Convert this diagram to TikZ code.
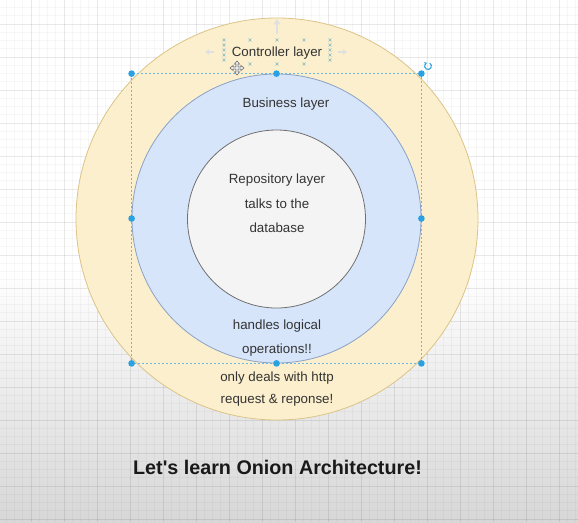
\documentclass[tikz,border=0pt]{standalone}
\usepackage{fontspec}
\setmainfont{Liberation Sans}
\usetikzlibrary{arrows.meta}

\definecolor{outerfill}{HTML}{FCEFCD}
\definecolor{outerline}{HTML}{DCC488}
\definecolor{midfill}{HTML}{D7E5FA}
\definecolor{midline}{HTML}{8AA2C4}
\definecolor{innerfill}{HTML}{F4F4F4}
\definecolor{innerline}{HTML}{707070}
\definecolor{txt}{HTML}{333333}
\definecolor{selblue}{HTML}{2AA2E2}
\definecolor{framecol}{HTML}{6DB8E4}
\definecolor{pointcol}{HTML}{7FB8C6}
\definecolor{bggrey}{HTML}{D7D7D7}

\tikzset{
  layer/.style={circle, draw, line width=0.6pt, inner sep=0pt},
  label text/.style={text=txt, font=\fontsize{10}{12}\selectfont, inner sep=0pt},
  handle/.style={circle, fill=selblue, inner sep=0pt, minimum size=5pt},
  cpoint/.style={draw=pointcol, line width=0.5pt},
  hoverarrow/.style={draw=black!12, line width=1.2pt},
}

\begin{document}
\begin{tikzpicture}[x=0.75pt,y=-0.75pt]
\useasboundingbox (0,0) rectangle (578,522);

% canvas with its soft grey fade
\fill[white] (0,0) rectangle (578,522);
\shade[top color=white, bottom color=bggrey] (0,270) rectangle (578,522);

% page grid
\foreach \i in {0,...,70} {
  \draw[black, opacity=0.03, line width=0.4pt] ({-2+\i*8.25},0) -- ({-2+\i*8.25},522);
  \draw[black, opacity=0.03, line width=0.4pt] (0,{-0.75+\i*8.25}) -- (578,{-0.75+\i*8.25});
}
\foreach \i in {0,...,17} {
  \draw[black, opacity=0.055, line width=0.5pt] ({31+\i*33},0) -- ({31+\i*33},522);
  \draw[black, opacity=0.055, line width=0.5pt] (0,{24+\i*33}) -- (578,{24+\i*33});
}

% the three layers
\node[layer, fill=outerfill, draw=outerline, minimum size=301.5pt] (outer) at (277,219) {};
\node[layer, fill=midfill, draw=midline, minimum size=216.75pt] (middle) at (276.5,218.5) {};
\node[layer, fill=innerfill, draw=innerline, minimum size=133.5pt] (inner) at (276.5,219) {};

% texts
\node[label text] (ctrl) at (277,53) {Controller layer};
\node[label text] (bus) at (286,104) {Business layer};
\node[label text] (repo1) at (277,180) {Repository layer};
\node[label text] (repo2) at (277,204) {talks to the};
\node[label text] (repo3) at (277,228) {database};
\node[label text] (log1) at (277,326) {handles logical};
\node[label text] (log2) at (277,350) {operations!!};
\node[label text] (http1) at (277,378) {only deals with http};
\node[label text] (http2) at (277,400) {request \& reponse!};
\node[text=black!90, font=\bfseries\fontsize{14.8}{17}\selectfont, inner sep=0pt] (title) at (277.5,467) {Let{\XeTeXglyph\XeTeXcharglyph"0027}s learn Onion Architecture!};

% hover arrows around the controller label
\draw[hoverarrow, -{Triangle[length=4pt,width=5pt]}] (277,34) -- (277,19);
\draw[hoverarrow, -{Triangle[length=3pt,width=4pt]}] (214,52) -- (205,52);
\draw[hoverarrow, -{Triangle[length=3pt,width=4pt]}] (338,52) -- (347,52);

% connection points of the controller label
\foreach \y in {40,45,50,55,60} {
  \coordinate (cl\y) at (224,\y);
  \coordinate (cr\y) at (330,\y);
  \draw[cpoint] ([shift={(-1.4,-1.4)}]cl\y) -- ([shift={(1.4,1.4)}]cl\y)
                ([shift={(-1.4,1.4)}]cl\y) -- ([shift={(1.4,-1.4)}]cl\y);
  \draw[cpoint] ([shift={(-1.4,-1.4)}]cr\y) -- ([shift={(1.4,1.4)}]cr\y)
                ([shift={(-1.4,1.4)}]cr\y) -- ([shift={(1.4,-1.4)}]cr\y);
}
\foreach \x/\y in {250/40, 277/40, 304/40, 250/64, 277/64, 304/64} {
  \coordinate (cp) at (\x,\y);
  \draw[cpoint] ([shift={(-1.4,-1.4)}]cp) -- ([shift={(1.4,1.4)}]cp)
                ([shift={(-1.4,1.4)}]cp) -- ([shift={(1.4,-1.4)}]cp);
}

% selection frame of the middle layer
\coordinate (snw) at (middle.west |- middle.north);
\coordinate (sne) at (middle.east |- middle.north);
\coordinate (ssw) at (middle.west |- middle.south);
\coordinate (sse) at (middle.east |- middle.south);
\draw[framecol, line width=0.6pt, dash pattern=on 1.5pt off 1.5pt] (snw) rectangle (sse);
\foreach \p in {snw, sne, ssw, sse, middle.north, middle.south, middle.east, middle.west} {
  \node[handle] at (\p) {};
}
% rotate handle
\draw[selblue, line width=0.8pt, -{Stealth[length=2pt,width=2.5pt]}] (429.7,63.1) arc[start angle=-60, end angle=250, radius=3.4];

% move cursor
\begin{scope}[shift={(237,68)}]
  \fill[white] (-6,-1.5) rectangle (6,1.5);
  \fill[white] (-1.5,-6) rectangle (1.5,6);
  \draw[black!60, line width=0.4pt]
    (0,-7) -- (2.5,-4) -- (1,-4) -- (1,-1) -- (4,-1) -- (4,-2.5) -- (7,0)
    -- (4,2.5) -- (4,1) -- (1,1) -- (1,4) -- (2.5,4) -- (0,7)
    -- (-2.5,4) -- (-1,4) -- (-1,1) -- (-4,1) -- (-4,2.5) -- (-7,0)
    -- (-4,-2.5) -- (-4,-1) -- (-1,-1) -- (-1,-4) -- (-2.5,-4) -- cycle;
\end{scope}
\end{tikzpicture}
\end{document}
